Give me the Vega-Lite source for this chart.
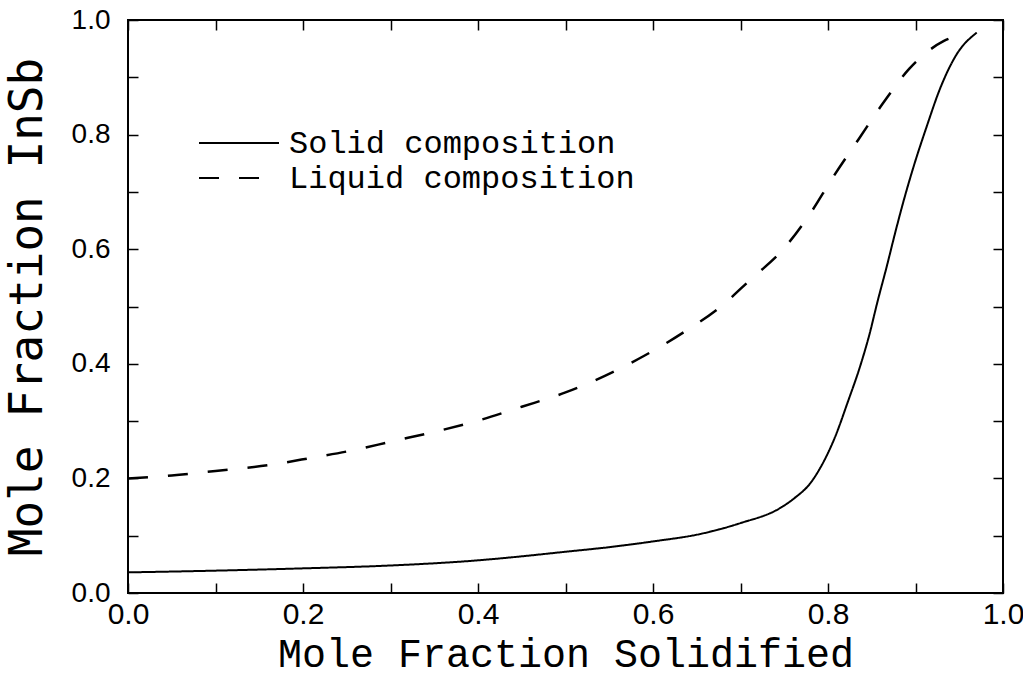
{
  "$schema": "https://vega.github.io/schema/vega-lite/v6.json",
  "autosize": "none",
  "width": 875,
  "height": 573,
  "padding": {"left": 128, "top": 20, "right": 20, "bottom": 84},
  "background": "white",
  "config": {
    "view": {"stroke": "black", "strokeWidth": 2},
    "axis": {"grid": false, "domain": false, "tickColor": "black", "tickWidth": 1.5, "labelColor": "black", "titleColor": "black", "labelOverlap": false, "labelFlush": false, "titleFontWeight": "normal"},
    "legend": {"symbolStrokeColor": "black", "symbolStrokeWidth": 2, "labelColor": "black", "padding": 0}
  },
  "datasets": {
    "curves": [
      {"series": "Solid composition", "f": 0.00, "x": 0.036},
      {"series": "Solid composition", "f": 0.10, "x": 0.039},
      {"series": "Solid composition", "f": 0.20, "x": 0.043},
      {"series": "Solid composition", "f": 0.30, "x": 0.048},
      {"series": "Solid composition", "f": 0.40, "x": 0.057},
      {"series": "Solid composition", "f": 0.45, "x": 0.064},
      {"series": "Solid composition", "f": 0.50, "x": 0.072},
      {"series": "Solid composition", "f": 0.55, "x": 0.080},
      {"series": "Solid composition", "f": 0.60, "x": 0.090},
      {"series": "Solid composition", "f": 0.654, "x": 0.103},
      {"series": "Solid composition", "f": 0.70, "x": 0.122},
      {"series": "Solid composition", "f": 0.745, "x": 0.148},
      {"series": "Solid composition", "f": 0.762, "x": 0.166},
      {"series": "Solid composition", "f": 0.78, "x": 0.192},
      {"series": "Solid composition", "f": 0.791, "x": 0.218},
      {"series": "Solid composition", "f": 0.808, "x": 0.272},
      {"series": "Solid composition", "f": 0.823, "x": 0.335},
      {"series": "Solid composition", "f": 0.837, "x": 0.397},
      {"series": "Solid composition", "f": 0.848, "x": 0.455},
      {"series": "Solid composition", "f": 0.856, "x": 0.505},
      {"series": "Solid composition", "f": 0.867, "x": 0.569},
      {"series": "Solid composition", "f": 0.877, "x": 0.630},
      {"series": "Solid composition", "f": 0.886, "x": 0.682},
      {"series": "Solid composition", "f": 0.897, "x": 0.740},
      {"series": "Solid composition", "f": 0.913, "x": 0.815},
      {"series": "Solid composition", "f": 0.928, "x": 0.880},
      {"series": "Solid composition", "f": 0.947, "x": 0.940},
      {"series": "Solid composition", "f": 0.97, "x": 0.978},
      {"series": "Liquid composition", "f": 0.00, "x": 0.200},
      {"series": "Liquid composition", "f": 0.05, "x": 0.205},
      {"series": "Liquid composition", "f": 0.10, "x": 0.213},
      {"series": "Liquid composition", "f": 0.16, "x": 0.223},
      {"series": "Liquid composition", "f": 0.21, "x": 0.236},
      {"series": "Liquid composition", "f": 0.26, "x": 0.250},
      {"series": "Liquid composition", "f": 0.30, "x": 0.264},
      {"series": "Liquid composition", "f": 0.355, "x": 0.283},
      {"series": "Liquid composition", "f": 0.405, "x": 0.303},
      {"series": "Liquid composition", "f": 0.45, "x": 0.325},
      {"series": "Liquid composition", "f": 0.50, "x": 0.350},
      {"series": "Liquid composition", "f": 0.545, "x": 0.379},
      {"series": "Liquid composition", "f": 0.59, "x": 0.414},
      {"series": "Liquid composition", "f": 0.635, "x": 0.455},
      {"series": "Liquid composition", "f": 0.68, "x": 0.503},
      {"series": "Liquid composition", "f": 0.71, "x": 0.545},
      {"series": "Liquid composition", "f": 0.75, "x": 0.602},
      {"series": "Liquid composition", "f": 0.78, "x": 0.663},
      {"series": "Liquid composition", "f": 0.805, "x": 0.724},
      {"series": "Liquid composition", "f": 0.835, "x": 0.792},
      {"series": "Liquid composition", "f": 0.863, "x": 0.855},
      {"series": "Liquid composition", "f": 0.893, "x": 0.915},
      {"series": "Liquid composition", "f": 0.932, "x": 0.963},
      {"series": "Liquid composition", "f": 0.955, "x": 0.975}
    ]
  },
  "data": {"name": "curves"},
  "layer": [
    {
      "transform": [{"filter": "datum.series === 'Solid composition'"}],
      "mark": {"type": "line", "color": "black", "strokeWidth": 2, "interpolate": "monotone"},
      "encoding": {
        "x": {
          "field": "f", "type": "quantitative",
          "scale": {"domain": [0, 1], "nice": false, "zero": false},
          "axis": {
            "orient": "bottom",
            "values": [0, 0.1, 0.2, 0.3, 0.4, 0.5, 0.6, 0.7, 0.8, 0.9, 1.0],
            "labelExpr": "round(datum.value*10)%2==0 ? format(datum.value,'.1f') : ''",
            "tickSize": -10,
            "labelPadding": 16,
            "labelFont": "Liberation Sans Narrow, Liberation Sans",
            "labelFontSize": 30,
            "title": "Mole Fraction Solidified",
            "titleFont": "Liberation Mono",
            "titleFontSize": 40,
            "titlePadding": 5
          }
        },
        "y": {
          "field": "x", "type": "quantitative",
          "scale": {"domain": [0, 1], "nice": false, "zero": false},
          "axis": {
            "orient": "left",
            "values": [0, 0.1, 0.2, 0.3, 0.4, 0.5, 0.6, 0.7, 0.8, 0.9, 1.0],
            "labelExpr": "round(datum.value*10)%2==0 ? format(datum.value,'.1f') : ''",
            "tickSize": -10,
            "labelPadding": 28,
            "labelFont": "Liberation Sans",
            "labelFontSize": 28,
            "title": "Mole Fraction InSb",
            "titleFont": "DejaVu Sans Mono",
            "titleFontSize": 46,
            "titlePadding": 20
          }
        },
        "strokeDash": {
          "field": "series", "type": "nominal",
          "scale": {"domain": ["Solid composition", "Liquid composition"], "range": [[1, 0], [20, 20]]},
          "legend": {
            "title": null,
            "orient": "none",
            "legendX": 95,
            "legendY": 107,
            "symbolType": "M-4,0H4",
            "symbolSize": 400,
            "labelFont": "Liberation Mono",
            "labelFontSize": 32,
            "labelLimit": 0,
            "labelOffset": 34,
            "rowPadding": 3
          }
        }
      }
    },
    {
      "transform": [{"filter": "datum.series === 'Liquid composition'"}],
      "mark": {"type": "line", "color": "black", "strokeWidth": 2.5, "interpolate": "monotone"},
      "encoding": {
        "x": {
          "field": "f", "type": "quantitative",
          "scale": {"domain": [0, 1], "nice": false, "zero": false},
          "axis": {"orient": "top", "values": [0, 0.1, 0.2, 0.3, 0.4, 0.5, 0.6, 0.7, 0.8, 0.9, 1.0], "labels": false, "tickSize": -10, "title": null}
        },
        "y": {
          "field": "x", "type": "quantitative",
          "scale": {"domain": [0, 1], "nice": false, "zero": false},
          "axis": {"orient": "right", "values": [0, 0.1, 0.2, 0.3, 0.4, 0.5, 0.6, 0.7, 0.8, 0.9, 1.0], "labels": false, "tickSize": -10, "title": null}
        },
        "strokeDash": {"field": "series", "type": "nominal"}
      }
    }
  ],
  "resolve": {"axis": {"x": "independent", "y": "independent"}}
}
